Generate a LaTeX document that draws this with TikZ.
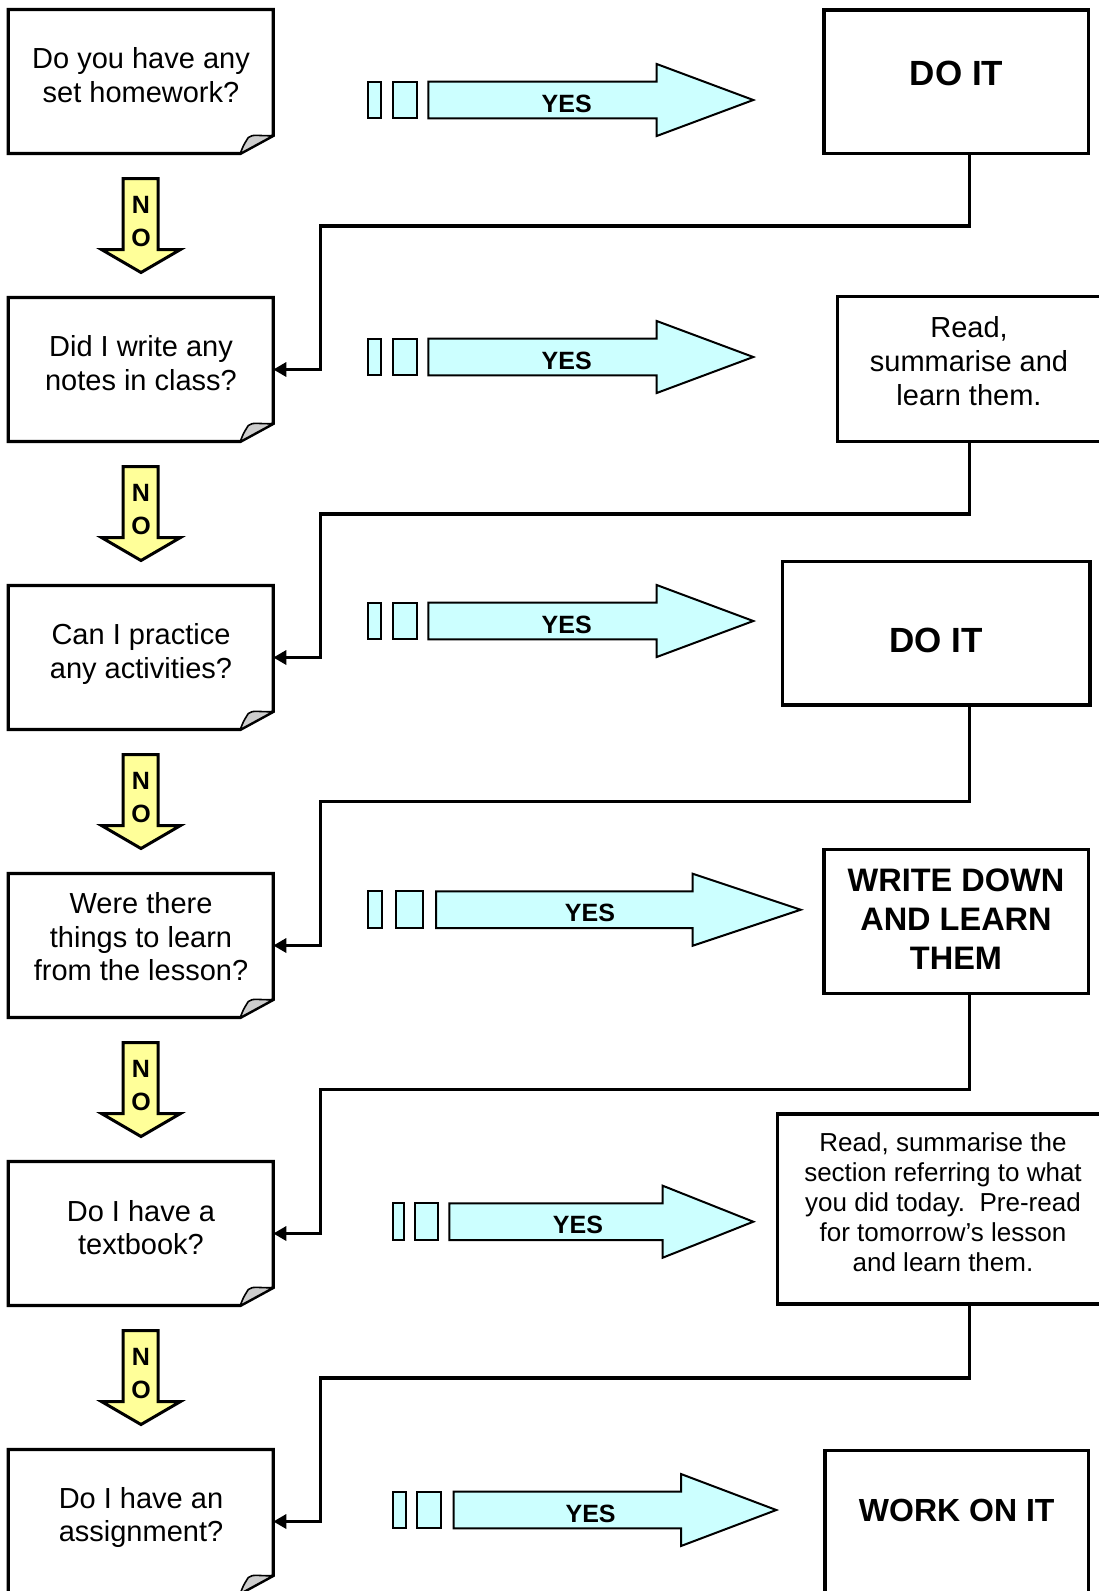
\documentclass[tikz,border=0pt]{standalone}
\usepackage{fontspec}
\setmainfont{Liberation Sans}
\usetikzlibrary{arrows.meta}
\definecolor{yescyan}{RGB}{204,255,255}
\definecolor{noyellow}{RGB}{255,255,153}
\definecolor{foldgray}{RGB}{205,205,205}
\begin{document}
\begin{tikzpicture}[x=1pt,y=-1pt,
  geom/.style={draw=none,inner sep=0pt,outer sep=0pt},
  rbox/.style={draw=black,line width=3.2pt,inner sep=0pt,outer sep=0pt},
  boxline/.style={line width=3.2pt,line join=miter},
  foldline/.style={line width=1.6pt,line join=round,fill=foldgray},
  qtext/.style={font=\fontsize{29}{33.5}\selectfont,align=center,inner sep=0pt},
  atext/.style={font=\fontsize{29}{34}\selectfont,align=center,inner sep=0pt},
  smalltext/.style={font=\fontsize{26}{30}\selectfont,align=center,inner sep=0pt},
  bigbold/.style={font=\fontsize{35}{40}\selectfont\bfseries,align=center,inner sep=0pt},
  midbold/.style={font=\fontsize{32.5}{39}\selectfont\bfseries,align=center,inner sep=0pt},
  yesline/.style={draw=black,line width=2pt,line join=miter,fill=yescyan},
  noline/.style={draw=black,line width=3pt,line join=miter,fill=noyellow},
  yestext/.style={font=\fontsize{25}{30}\selectfont\bfseries,inner sep=0pt},
  notext/.style={font=\fontsize{25}{33}\selectfont\bfseries,align=center,inner sep=0pt},
  conn/.style={line width=3.2pt,line join=miter,-{Triangle[length=13pt,width=14pt]}}
]
\useasboundingbox (0,0) rectangle (1099,1591);
\clip (0,0) rectangle (1099,1591);
\fill[white] (0,0) rectangle (1099,1591);

% ---------- left question boxes (folded corner) ----------
\foreach \k in {1,...,6}{
  \pgfmathsetmacro\cy{81.5+288*(\k-1)}
  \node[geom,minimum width=265pt,minimum height=144pt] (q\k) at (140.8,\cy) {};
  \draw[boxline,fill=white] (q\k.north west) -- (q\k.north east) -- ([yshift=18pt]q\k.south east)
     -- ([xshift=-33pt]q\k.south east) -- (q\k.south west) -- cycle;
  \draw[foldline] ([xshift=-33pt]q\k.south east)
     .. controls ([xshift=-30pt,yshift=8pt]q\k.south east) .. ([xshift=-25pt,yshift=16pt]q\k.south east)
     .. controls ([xshift=-21pt,yshift=20pt]q\k.south east) and ([xshift=-12pt,yshift=17pt]q\k.south east)
     .. ([yshift=18pt]q\k.south east) -- cycle;
}
\node[qtext] (q1t) at (141,75) {Do you have any\\set homework?};
\node[qtext] (q2t) at (141,363) {Did I write any\\notes in class?};
\node[qtext] (q3t) at (141,654) {Can I practice\\any activities?};
\node[qtext] (q4t) at (141,937) {Were there\\things to learn\\from the lesson?};
\node[qtext] (q5t) at (141,1227.5) {Do I have a\\textbook?};
\node[qtext] (q6t) at (141,1517.5) {Do I have an\\assignment?};

% ---------- NO arrows ----------
\foreach \k in {1,...,5}{
  \pgfmathsetmacro\o{288*(\k-1)}
  \draw[noline] (123,{178.5+\o}) -- (158,{178.5+\o}) -- (158,{249.5+\o}) -- (180.5,{249.5+\o})
     -- (141,{272.5+\o}) -- (101.5,{249.5+\o}) -- (123,{249.5+\o}) -- cycle;
  \node[notext] (no\k) at (141,{222+\o}) {N\\O};
}

% ---------- YES arrows ----------
\foreach \n/\cy/\a/\b/\c/\d/\s/\h/\t/\yx in {
  1/100/368.3/381/392.7/417.3/428.3/656.7/753.3/566.7,
  2/357/368.3/381/392.7/417.3/428.3/656.7/753.3/566.7,
  3/621/368.3/381/392.7/417.3/428.3/656.7/753.3/566.7,
  4/909.7/368.3/382.3/395.7/422.7/436/692.7/800.7/590,
  5/1221.7/393.3/404/415/437.7/449.3/662.7/753.3/578,
  6/1510/392.7/406/417/441.4/453.6/681/776.3/590.6}{
  \draw[yesline] (\a,{\cy-18.3}) rectangle (\b,{\cy+18.3});
  \draw[yesline] (\c,{\cy-18.3}) rectangle (\d,{\cy+18.3});
  \draw[yesline] (\s,{\cy-18.3}) -- (\h,{\cy-18.3}) -- (\h,{\cy-36}) -- (\t,\cy)
     -- (\h,{\cy+36}) -- (\h,{\cy+18.3}) -- (\s,{\cy+18.3}) -- cycle;
  \node[yestext] (yes\n) at (\yx,{\cy+3.5}) {YES};
}

% ---------- right answer boxes ----------
\node[rbox,minimum width=264.3pt,minimum height=143.3pt] (a1) at (956.2,81.7) {};
\node[rbox,minimum width=277.7pt,minimum height=145pt] (a2) at (976.2,369.2) {};
\node[rbox,minimum width=307.3pt,minimum height=143.3pt] (a3) at (936.3,633.3) {};
\node[rbox,minimum width=264.3pt,minimum height=144pt] (a4) at (956.2,921.3) {};
\node[rbox,minimum width=337.7pt,minimum height=190pt] (a5) at (946.2,1209) {};
\node[rbox,minimum width=263.3pt,minimum height=160pt] (a6) at (956.7,1530.7) {};

\node[bigbold] (a1t) at (956.5,73.5) {DO IT};
\node[atext] (a2t) at (969,361) {Read,\\summarise and\\learn them.};
\node[bigbold] (a3t) at (936,640.8) {DO IT};
\node[midbold] (a4t) at (956,919) {WRITE DOWN\\AND LEARN\\THEM};
\node[smalltext] (a5t) at (943,1202) {Read, summarise the\\section referring to what\\you did today.\ \ Pre-read\\for tomorrow’s lesson\\and learn them.};
\node[midbold,font=\fontsize{32}{38}\selectfont\bfseries] (a6t) at (956.7,1510) {WORK ON IT};

% ---------- connectors ----------
\coordinate (xc) at (969.3,0);
\coordinate (h1) at (320.7,226);
\coordinate (h2) at (320.7,514);
\coordinate (h3) at (320.7,801.7);
\coordinate (h4) at (320.7,1089.5);
\coordinate (h5) at (320.7,1378);
\draw[conn] (a1.south -| xc) |- (h1) |- (q2.east);
\draw[conn] (a2.south -| xc) |- (h2) |- (q3.east);
\draw[conn] (a3.south -| xc) |- (h3) |- (q4.east);
\draw[conn] (a4.south -| xc) |- (h4) |- (q5.east);
\draw[conn] (a5.south -| xc) |- (h5) |- (q6.east);
\end{tikzpicture}
\end{document}
